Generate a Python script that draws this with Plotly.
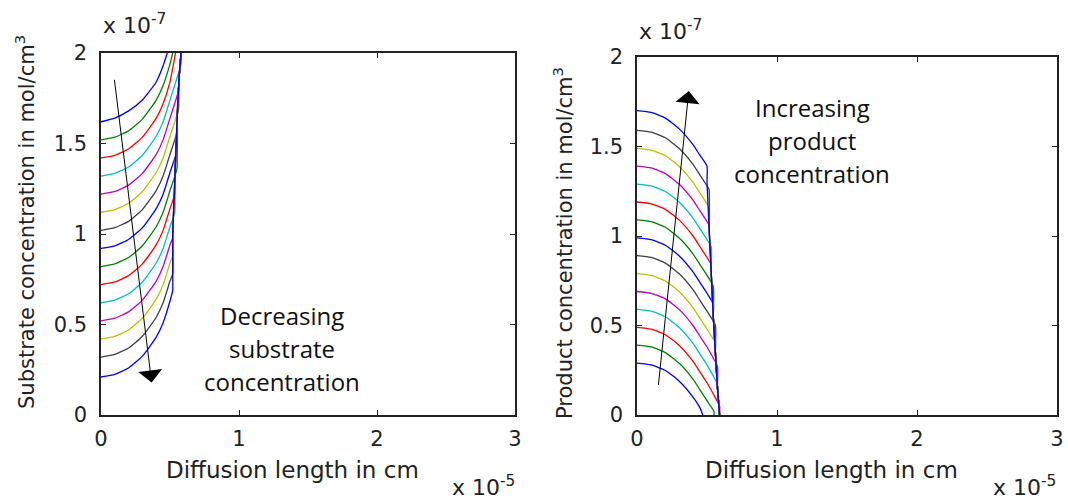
import plotly.graph_objects as go

W, H = 1068, 499

# MATLAB default colour cycle (b, g, r, c, m, y, k)
colors = ["#0000ff", "#008000", "#ff0000", "#00bfbf", "#bf00bf", "#bfbf00", "#404040"]

# ---------------- Left: substrate (values in 1e-7 mol/cm3, x in 1e-5 cm) ----------------
# curves listed top (1.6) to bottom (0.2)
sub_x = [
    [0, 0.1, 0.2, 0.3, 0.4, 0.45, 0.48],
    [0, 0.1, 0.2, 0.3, 0.4, 0.45, 0.5, 0.52],
    [0, 0.1, 0.2, 0.3, 0.4, 0.45, 0.5, 0.54],
    [0, 0.1, 0.2, 0.3, 0.4, 0.45, 0.5, 0.58],
    [0, 0.1, 0.2, 0.3, 0.4, 0.45, 0.5, 0.565],
    [0, 0.1, 0.2, 0.3, 0.4, 0.45, 0.5, 0.565],
    [0, 0.1, 0.2, 0.3, 0.4, 0.45, 0.5, 0.55],
    [0, 0.1, 0.2, 0.3, 0.4, 0.45, 0.5, 0.55],
    [0, 0.1, 0.2, 0.3, 0.4, 0.45, 0.5, 0.55],
    [0, 0.1, 0.2, 0.3, 0.4, 0.45, 0.5, 0.535],
    [0, 0.1, 0.2, 0.3, 0.4, 0.45, 0.5, 0.535],
    [0, 0.1, 0.2, 0.3, 0.4, 0.45, 0.5, 0.52],
    [0, 0.1, 0.2, 0.3, 0.4, 0.45, 0.5, 0.52],
    [0, 0.1, 0.2, 0.3, 0.4, 0.45, 0.5, 0.52],
    [0, 0.1, 0.2, 0.3, 0.4, 0.45, 0.5, 0.52],
]
sub_y = [
    [1.62, 1.64, 1.68, 1.74, 1.84, 1.93, 2.0],
    [1.52, 1.535, 1.57, 1.635, 1.74, 1.82, 1.94, 2.0],
    [1.42, 1.435, 1.47, 1.535, 1.64, 1.72, 1.84, 2.0],
    [1.32, 1.335, 1.37, 1.435, 1.54, 1.62, 1.74, 1.94],
    [1.22, 1.235, 1.27, 1.335, 1.44, 1.52, 1.64, 1.80],
    [1.12, 1.135, 1.17, 1.235, 1.34, 1.42, 1.54, 1.70],
    [1.02, 1.035, 1.07, 1.135, 1.24, 1.32, 1.44, 1.56],
    [0.92, 0.935, 0.97, 1.035, 1.14, 1.22, 1.34, 1.46],
    [0.82, 0.835, 0.87, 0.935, 1.04, 1.12, 1.24, 1.36],
    [0.72, 0.735, 0.77, 0.835, 0.94, 1.02, 1.14, 1.22],
    [0.62, 0.635, 0.67, 0.735, 0.84, 0.92, 1.04, 1.12],
    [0.52, 0.535, 0.57, 0.635, 0.74, 0.82, 0.94, 0.98],
    [0.42, 0.435, 0.47, 0.535, 0.64, 0.72, 0.84, 0.88],
    [0.32, 0.335, 0.37, 0.435, 0.54, 0.62, 0.74, 0.78],
    [0.21, 0.225, 0.26, 0.325, 0.43, 0.51, 0.63, 0.69],
]
# staircase that every substrate curve climbs to the boundary value
sub_band_x = [0.52, 0.52, 0.535, 0.535, 0.55, 0.55, 0.565, 0.565, 0.58, 0.58]
sub_band_y = [0.75, 1.00, 1.00, 1.30, 1.30, 1.60, 1.60, 1.85, 1.85, 2.00]

# ---------------- Right: product ----------------
# curves listed bottom (0.3) to top (1.7)
prod_x = [
    [0, 0.1, 0.2, 0.3, 0.4, 0.45, 0.47],
    [0, 0.1, 0.2, 0.3, 0.4, 0.45, 0.5, 0.55, 0.55],
    [0, 0.1, 0.2, 0.3, 0.4, 0.45, 0.5, 0.55, 0.59],
    [0, 0.1, 0.2, 0.3, 0.4, 0.45, 0.5, 0.55, 0.575],
    [0, 0.1, 0.2, 0.3, 0.4, 0.45, 0.5, 0.55, 0.575],
    [0, 0.1, 0.2, 0.3, 0.4, 0.45, 0.5, 0.56],
    [0, 0.1, 0.2, 0.3, 0.4, 0.45, 0.5, 0.56],
    [0, 0.1, 0.2, 0.3, 0.4, 0.45, 0.5, 0.545],
    [0, 0.1, 0.2, 0.3, 0.4, 0.45, 0.5, 0.545],
    [0, 0.1, 0.2, 0.3, 0.4, 0.45, 0.5, 0.53],
    [0, 0.1, 0.2, 0.3, 0.4, 0.45, 0.5, 0.53],
    [0, 0.1, 0.2, 0.3, 0.4, 0.45, 0.5, 0.515],
    [0, 0.1, 0.2, 0.3, 0.4, 0.45, 0.5, 0.515],
    [0, 0.1, 0.2, 0.3, 0.4, 0.45, 0.5, 0.515],
    [0, 0.1, 0.2, 0.3, 0.4, 0.45, 0.5],
]
prod_y = [
    [0.29, 0.28, 0.25, 0.19, 0.10, 0.04, 0.0],
    [0.39, 0.38, 0.35, 0.29, 0.20, 0.14, 0.08, 0.02, 0.0],
    [0.49, 0.48, 0.45, 0.39, 0.30, 0.24, 0.18, 0.11, 0.05],
    [0.59, 0.58, 0.55, 0.49, 0.40, 0.34, 0.28, 0.21, 0.17],
    [0.69, 0.68, 0.65, 0.59, 0.50, 0.44, 0.38, 0.31, 0.27],
    [0.79, 0.78, 0.75, 0.69, 0.60, 0.54, 0.48, 0.40],
    [0.89, 0.88, 0.85, 0.79, 0.70, 0.64, 0.58, 0.50],
    [0.99, 0.98, 0.95, 0.89, 0.80, 0.74, 0.68, 0.62],
    [1.09, 1.08, 1.05, 0.99, 0.90, 0.84, 0.78, 0.72],
    [1.19, 1.18, 1.15, 1.09, 1.00, 0.94, 0.88, 0.84],
    [1.29, 1.28, 1.25, 1.19, 1.10, 1.04, 0.98, 0.94],
    [1.39, 1.38, 1.35, 1.29, 1.20, 1.14, 1.08, 1.06],
    [1.49, 1.48, 1.45, 1.39, 1.30, 1.24, 1.18, 1.16],
    [1.59, 1.58, 1.55, 1.49, 1.40, 1.34, 1.28, 1.26],
    [1.70, 1.69, 1.66, 1.60, 1.51, 1.45, 1.39],
]
prod_band_x = [0.50, 0.515, 0.515, 0.53, 0.53, 0.545, 0.545, 0.56, 0.56, 0.575, 0.575, 0.59, 0.59]
prod_band_y = [1.30, 1.30, 1.05, 1.05, 0.80, 0.80, 0.55, 0.55, 0.35, 0.35, 0.15, 0.15, 0.0]

x_ticks = [0, 1, 2, 3]
x_tick_text = ["0", "1", "2", "3"]
y_ticks = [0, 0.5, 1, 1.5, 2]
y_tick_text = ["0", "0.5", "1", "1.5", "2"]

note_left_lines = ["Decreasing", "substrate", "concentration"]
note_right_lines = ["Increasing", "product", "concentration"]

fig = go.Figure()

for i, (xs, ys) in enumerate(zip(sub_x, sub_y)):
    xx, yy = list(xs), list(ys)
    for bx, by in zip(sub_band_x, sub_band_y):
        if by > yy[-1] and bx >= xx[-1] - 1e-9:
            xx.append(bx); yy.append(by)
    fig.add_trace(go.Scatter(x=xx, y=yy, mode="lines", xaxis="x", yaxis="y",
                             line=dict(color=colors[i % 7], width=1.3, shape="spline", smoothing=0.5),
                             showlegend=False, hoverinfo="skip"))

for i, (xs, ys) in enumerate(zip(prod_x, prod_y)):
    xx, yy = list(xs), list(ys)
    if yy[-1] > 0:
        for bx, by in zip(prod_band_x, prod_band_y):
            if by < yy[-1] and bx >= xx[-1] - 1e-9:
                xx.append(bx); yy.append(by)
    fig.add_trace(go.Scatter(x=xx, y=yy, mode="lines", xaxis="x2", yaxis="y2",
                             line=dict(color=colors[i % 7], width=1.3, shape="spline", smoothing=0.5),
                             showlegend=False, hoverinfo="skip"))

def px(x):
    return x / W

def py(y):
    return 1 - y / H

tick_font = dict(family="DejaVu Sans, Liberation Sans", size=21, color="#222222")
axis_common = dict(showgrid=False, zeroline=False, showline=True, mirror="ticks", automargin=False,
                   linecolor="#222222", linewidth=1.5, ticks="inside", ticklen=5, tickcolor="#222222",
                   tickfont=tick_font)

fig.update_layout(
    width=W, height=H, margin=dict(l=0, r=0, t=0, b=0, pad=0, autoexpand=False),
    paper_bgcolor="white", plot_bgcolor="white",
    xaxis=dict(axis_common, range=[0, 3], tickvals=x_ticks, ticktext=x_tick_text,
               domain=[px(101), px(515)], anchor="y", ticklabelstandoff=4),
    yaxis=dict(axis_common, range=[0, 2], tickvals=y_ticks, ticktext=y_tick_text,
               domain=[py(415), py(53)], anchor="x", ticklabelstandoff=8),
    xaxis2=dict(axis_common, range=[0, 3], tickvals=x_ticks, ticktext=x_tick_text,
                domain=[px(637), px(1057)], anchor="y2", ticklabelstandoff=4),
    yaxis2=dict(axis_common, range=[0, 2], tickvals=y_ticks, ticktext=y_tick_text,
                domain=[py(415), py(57)], anchor="x2", ticklabelstandoff=8),
)

lab_font = dict(family="DejaVu Sans, Liberation Sans", size=22, color="#222222")
xlab_font = dict(family="DejaVu Sans, Liberation Sans", size=23, color="#222222")
vlab_font = dict(family="DejaVu Sans, Liberation Sans", size=21, color="#222222")
note_font = dict(family="Open Sans, Lato", size=24, color="#111111")

anns = [
    dict(text="Diffusion length in cm", x=px(292), y=py(470), font=xlab_font),
    dict(text="Diffusion length in cm", x=px(831), y=py(470), font=xlab_font),
    dict(text="Substrate concentration in mol/cm<sup>3</sup>", x=px(25), y=py(222), textangle=-90, font=vlab_font),
    dict(text="Product concentration in mol/cm<sup>3</sup>", x=px(563), y=py(243), textangle=-90, font=vlab_font),
    dict(text="x 10<sup>-7</sup>", x=px(134), y=py(24), font=lab_font),
    dict(text="x 10<sup>-7</sup>", x=px(670), y=py(30), font=lab_font),
    dict(text="x 10<sup>-5</sup>", x=px(483), y=py(486), font=lab_font),
    dict(text="x 10<sup>-5</sup>", x=px(1024), y=py(486), font=lab_font),
]
for k, t in enumerate(note_left_lines):
    anns.append(dict(text=t, x=px(282), y=py(315 + 33 * k), font=note_font))
for k, t in enumerate(note_right_lines):
    anns.append(dict(text=t, x=px(812), y=py(107 + 33 * k), font=note_font))

for a in anns:
    a.update(xref="paper", yref="paper", showarrow=False, xanchor="center", yanchor="middle")
    fig.add_annotation(**a)

# arrows (data coordinates)
fig.add_annotation(x=0.367, y=0.18, ax=0.096, ay=1.86, xref="x", yref="y", axref="x", ayref="y",
                   text="", showarrow=True, arrowhead=1, arrowsize=4, arrowwidth=1, arrowcolor="black")
fig.add_annotation(x=0.37, y=1.81, ax=0.152, ay=0.16, xref="x2", yref="y2", axref="x2", ayref="y2",
                   text="", showarrow=True, arrowhead=1, arrowsize=4, arrowwidth=1, arrowcolor="black")

fig.write_html("out.html")
